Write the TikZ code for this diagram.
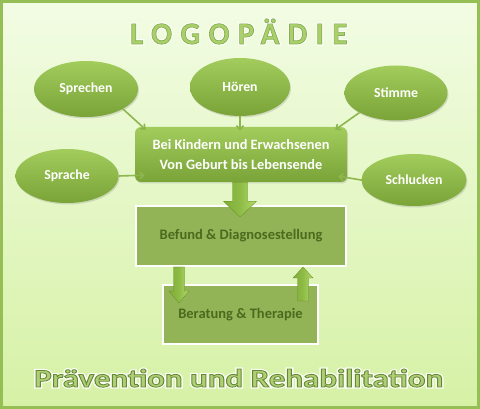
\documentclass[tikz,border=0pt]{standalone}
\usepackage{fontspec}
\setmainfont{Carlito}
\usetikzlibrary{calc,shapes.geometric,shadows,arrows.meta}
\definecolor{bgtop}{HTML}{F2FCE4}
\definecolor{bgbot}{HTML}{D6F1A5}
\definecolor{frame}{HTML}{95BF55}
\definecolor{eltop}{HTML}{A2CC5C}
\definecolor{elbot}{HTML}{7AA338}
\definecolor{conn}{HTML}{8DB64E}
\definecolor{boxfill}{HTML}{92B457}
\definecolor{boxtext}{HTML}{4C6A1E}
\definecolor{titlefill}{HTML}{AACF6C}
\definecolor{botfill}{HTML}{AFCF76}
\definecolor{arrL}{HTML}{7FAE36}
\definecolor{arrR}{HTML}{B3DB6C}
% outlined text: stroke colour (r g b), stroke width, render mode, text
\newcommand\outlinetext[4]{{\special{pdf:literal direct #1 RG #2 w #3 Tr}#4\special{pdf:literal direct 0 Tr}}}
\newcommand\titletext[2]{\fontsize{31}{31}\selectfont\bfseries\addfontfeatures{LetterSpace=27}\outlinetext{#1}{#2}{2}{LOGOPÄDIE}}
\newcommand\claimtext[3]{\resizebox{409pt}{18pt}{\fontsize{26}{26}\selectfont\bfseries\outlinetext{#1}{#2}{#3}{Prävention und Rehabilitation}}}
\tikzset{
  bubble/.style={ellipse, minimum width=104pt, minimum height=56pt, inner sep=0pt,
    top color=eltop, bottom color=elbot, draw=none,
    drop shadow={opacity=0.25, shadow xshift=1pt, shadow yshift=-1.5pt},
    text=white, font=\fontsize{13.8}{15}\selectfont\bfseries},
  hub/.style={rectangle, rounded corners=6pt, minimum width=212pt, minimum height=55pt,
    top color=eltop, bottom color=elbot, draw=none, align=center,
    drop shadow={opacity=0.25, shadow xshift=1pt, shadow yshift=-1.5pt},
    text=white, font=\fontsize{14.3}{20}\selectfont\bfseries},
  stagebox/.style={rectangle, fill=boxfill, draw=white, line width=2pt,
    text=boxtext, font=\fontsize{14.5}{16}\selectfont\bfseries,
    drop shadow={opacity=0.2, shadow xshift=1pt, shadow yshift=-1pt}},
  link/.style={conn, line width=1.6pt, -{Straight Barb[length=4pt,width=7pt]}},
  fatarrow/.style={left color=arrL, right color=arrR, middle color=arrL!70!arrR, draw=arrL!80!black, line width=0.3pt},
  glow/.style={inner sep=0pt, anchor=base west, text=white, opacity=0.85}
}
\begin{document}
\begin{tikzpicture}[x=1pt,y=-1pt]
\useasboundingbox (0,0) rectangle (480,409);
\shade[top color=bgtop,bottom color=bgbot] (0,0) rectangle (480,409);
\draw[frame,line width=3pt] (1.5,1.5) rectangle (478.5,407.5);

% title
\node[glow] (titleglow) at (130,44) {\titletext{1 1 1}{3}};
\node[text=titlefill, inner sep=0pt, anchor=base west] (title) at (130,44) {\titletext{0.52 0.69 0.30}{0.7}};

% hub
\node[hub] (hub) at (241,154.5) {Bei Kindern und Erwachsenen\\Von Geburt bis Lebensende};

% bubbles
\node[bubble] (sprechen) at (86,89) {Sprechen};
\node[bubble, minimum width=100pt, minimum height=58pt] (hoeren) at (240,87) {Hören};
\node[bubble, minimum width=103pt, minimum height=55pt] (stimme) at (396,93) {Stimme};
\node[bubble, minimum width=103pt, minimum height=54pt] (sprache) at (67,176) {Sprache};
\node[bubble, minimum width=105pt, minimum height=52pt] (schlucken) at (414,180) {Schlucken};

% connectors
\draw[link] (sprechen.south east) -- ($(hub.north west)+(11,3)$);
\draw[link] (hoeren.south) -- ($(hub.north)+(-1,4)$);
\draw[link] (stimme.south west) -- ($(hub.north east)+(-12,3)$);
\draw[link] (sprache.east) -- ($(hub.south west)+(10,-7)$);
\draw[link] (schlucken.west) -- ($(hub.south east)+(-9,-6)$);

% stage boxes
\node[stagebox, minimum width=210pt, minimum height=60pt] (befund) at (241,236) {Befund \& Diagnosestellung};
\node[stagebox, minimum width=155pt, minimum height=59pt] (beratung) at (240.5,314.5) {Beratung \& Therapie};

% big arrow hub -> befund
\coordinate (A) at ($(hub.south)+(-1,0)$);
\shade[fatarrow] ($(A)+(-7.5,0)$) -- ($(A)+(7.5,0)$) -- ($(A)+(7.5,19)$) -- ($(A)+(16.5,19)$)
  -- ($(A)+(0,35)$) -- ($(A)+(-16.5,19)$) -- ($(A)+(-7.5,19)$) -- cycle;

% small down arrow befund -> beratung
\coordinate (B) at ($(befund.south west)+(44,0)$);
\shade[fatarrow] ($(B)+(-5.5,0)$) -- ($(B)+(5.5,0)$) -- ($(B)+(5.5,24)$) -- ($(B)+(10,24)$)
  -- ($(B)+(0,36)$) -- ($(B)+(-10,24)$) -- ($(B)+(-5.5,24)$) -- cycle;

% small up arrow beratung -> befund
\coordinate (C) at ($(befund.south west)+(168,0)$);
\shade[fatarrow] ($(C)+(-5.5,34)$) -- ($(C)+(5.5,34)$) -- ($(C)+(5.5,11)$) -- ($(C)+(10,11)$)
  -- ($(C)+(0,0)$) -- ($(C)+(-10,11)$) -- ($(C)+(-5.5,11)$) -- cycle;

% bottom text
\node[glow] (claimglow) at (34,387) {\claimtext{1 1 1}{3.2}{1}};
\node[text=botfill, inner sep=0pt, anchor=base west] (claim) at (34,387) {\claimtext{0.40 0.53 0.20}{0.8}{2}};
\end{tikzpicture}
\end{document}
